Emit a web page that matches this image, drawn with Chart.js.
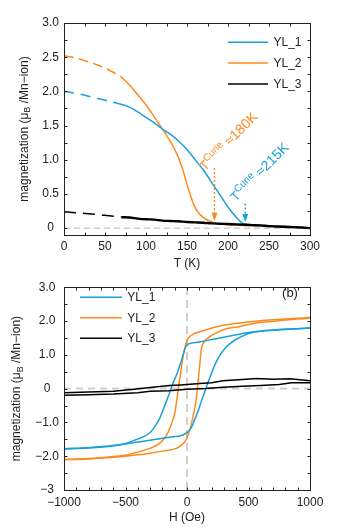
<!DOCTYPE html>
<html><head><meta charset="utf-8">
<script src="https://cdn.jsdelivr.net/npm/chart.js@4.4.1/dist/chart.umd.min.js"></script>
<style>
html,body{margin:0;padding:0;background:#fff;width:346px;height:530px;overflow:hidden}
canvas{position:absolute;left:0}
#c1{top:0;width:346px;height:275px}
#c2{top:275px;width:346px;height:255px}
</style></head><body>
<canvas id="c1" width="346" height="275"></canvas>
<canvas id="c2" width="346" height="255"></canvas>
<script>
// ---------- (a) magnetization vs temperature ----------
const T_YL1_extrap = [0,10,20,30,40,50,60];
const M_YL1_extrap = [2.00,1.98,1.96,1.93,1.90,1.87,1.84];
const T_YL1 = [60,70,80,90,100,110,120,130,140,150,160,170,180,190,200,210,214,218,230,250,270,290];
const M_YL1 = [1.84,1.81,1.77,1.70,1.62,1.54,1.45,1.37,1.27,1.15,1.00,0.85,0.67,0.49,0.31,0.16,0.11,0.07,0.05,0.03,0.02,0.01];

const T_YL2_extrap = [0,10,20,30,40,50,60,69];
const M_YL2_extrap = [2.52,2.50,2.47,2.43,2.39,2.34,2.28,2.22];
const T_YL2 = [69,80,90,100,110,120,125,130,135,140,145,150,155,160,165,170,175,180,183,190,200,220,240,260,280];
const M_YL2 = [2.22,2.09,1.95,1.80,1.63,1.45,1.36,1.26,1.15,1.02,0.85,0.64,0.45,0.30,0.21,0.155,0.12,0.095,0.08,0.06,0.05,0.04,0.03,0.02,0.01];

const T_YL3_extrap = [0,10,20,30,40,50,60,70];
const M_YL3_extrap = [0.24,0.23,0.22,0.21,0.20,0.19,0.175,0.165];
const T_YL3 = [70,80,90,100,110,120,130,140,150,160,170,180,190,200,210,220,230,240,250,260,270,280,290,300];
const M_YL3 = [0.16,0.155,0.14,0.13,0.125,0.11,0.105,0.10,0.09,0.085,0.08,0.07,0.065,0.06,0.055,0.05,0.045,0.04,0.03,0.025,0.02,0.015,0.01,0.0];

const T_range = [0,300];
const T_ticks = [0,50,100,150,200,250,300];
const Ma_ticks = [0,0.5,1.0,1.5,2.0,2.5,3.0];

// Curie temperature markers: [T, arrow top M, arrow tip M, text T, text M, label]
const curie_YL2 = [183.5, 0.88, 0.11, 171.5, 0.83, '≈180K'];
const curie_YL1 = [221, 0.36, 0.09, 209.5, 0.38, '≈215K'];

// ---------- (b) hysteresis loops ----------
const H_YL1_up = [-1000,-800,-600,-500,-420,-358,-300,-276,-250,-222,-195,-168,-141,-114,-95,-81,-64,-46,-30,-19,-5,10,100,200,300,400,500,600,800,1000];
const M_YL1_up = [-1.78,-1.74,-1.68,-1.62,-1.52,-1.43,-1.30,-1.20,-1.06,-0.88,-0.64,-0.38,-0.12,0.16,0.32,0.44,0.62,0.82,1.02,1.16,1.28,1.32,1.38,1.45,1.52,1.59,1.66,1.70,1.75,1.79];
const H_YL1_dn = [-1000,-800,-600,-500,-400,-300,-200,-100,-59,0,22,45,63,76,90,103,124,144,165,185,210,239,270,307,350,401,450,500,600,800,1000];
const M_YL1_dn = [-1.79,-1.76,-1.70,-1.64,-1.58,-1.53,-1.47,-1.42,-1.40,-1.30,-1.22,-1.08,-0.91,-0.80,-0.66,-0.53,-0.30,-0.10,0.12,0.32,0.56,0.80,1.00,1.18,1.33,1.46,1.55,1.63,1.70,1.76,1.79];

const H_YL2_up = [-1000,-800,-600,-500,-400,-303,-222,-168,-127,-100,-81,-65,-46,-30,-19,0,22,49,100,157,250,428,600,800,1000];
const M_YL2_up = [-2.10,-2.07,-2.01,-1.97,-1.88,-1.77,-1.62,-1.39,-1.05,-0.74,-0.29,0.13,0.61,0.98,1.18,1.42,1.54,1.61,1.68,1.74,1.84,1.94,2.01,2.06,2.10];
const H_YL2_dn = [-1000,-800,-600,-500,-400,-300,-200,-86,-19,8,35,63,76,90,105,117,135,157,200,239,300,428,600,700,800,1000];
const M_YL2_dn = [-2.10,-2.08,-2.03,-2.00,-1.96,-1.91,-1.85,-1.77,-1.58,-1.38,-1.05,-0.58,-0.29,0.20,0.75,1.18,1.36,1.46,1.57,1.65,1.75,1.84,1.96,1.99,2.03,2.08];

const H_YL3_up = [-1000,-800,-600,-450,-300,-141,-50,103,200,293,450,564,700,835,1000];
const M_YL3_up = [-0.12,-0.10,-0.08,-0.03,0.03,0.09,0.11,0.15,0.17,0.23,0.27,0.30,0.28,0.29,0.23];
const H_YL3_dn = [-1000,-800,-600,-400,-300,-150,0,150,293,450,600,750,850,1000];
const M_YL3_dn = [-0.20,-0.18,-0.16,-0.12,-0.08,-0.06,-0.02,0.00,0.04,0.07,0.09,0.12,0.17,0.17];

const H_range = [-1000,1000];
const H_ticks = [-1000,-500,0,500,1000];
const Mb_range = [-3,3];
const Mb_ticks = [-3,-2,-1,0,1,2,3];

const seriesNames = ['YL_1','YL_2','YL_3'];
const seriesColors = ['#1a9fd8','#ff8a1c','#000000'];
const refColor = '#cfcfcf';

// ---------- helpers ----------
const FONT = '"Liberation Sans", Arial, Helvetica, sans-serif';
Chart.defaults.font.family = FONT;
Chart.defaults.font.size = 12;
Chart.defaults.color = '#222';

const pts = (xs, ys) => xs.map((x,i)=>({x, y: ys[i]}));
const near = (v, list) => list.find(t => Math.abs(t - v) < 1e-6);
const minus = s => s.replace('-', '\u2212');

function line(data, color, opts) {
  return Object.assign({
    data, borderColor: color, backgroundColor: color, borderWidth: 1.5,
    showLine: true, pointRadius: 0, pointHoverRadius: 0, fill: false,
    cubicInterpolationMode: 'monotone'
  }, opts || {});
}

const frameTicks = {
  id: 'frameTicks',
  afterDatasetsDraw(chart) {
    const {ctx, chartArea: a, scales: {x, y}} = chart;
    ctx.save();
    ctx.strokeStyle = '#222';
    ctx.lineWidth = 1;
    const L = Math.round(a.left) + 0.5, R = Math.round(a.right) + 0.5;
    const T = Math.round(a.top) + 0.5, B = Math.round(a.bottom) + 0.5;
    ctx.strokeRect(L, T, R - L, B - T);
    const len = 3;
    ctx.beginPath();
    x.ticks.forEach(t => {
      const p = Math.round(x.getPixelForValue(t.value)) + 0.5;
      ctx.moveTo(p, B); ctx.lineTo(p, B - len);
      ctx.moveTo(p, T); ctx.lineTo(p, T + len);
    });
    y.ticks.forEach(t => {
      const p = Math.round(y.getPixelForValue(t.value)) + 0.5;
      ctx.moveTo(L, p); ctx.lineTo(L + len, p);
      ctx.moveTo(R, p); ctx.lineTo(R - len, p);
    });
    ctx.stroke();
    ctx.restore();
  }
};

const yTitle = {
  id: 'yTitle',
  afterDraw(chart, args, o) {
    const {ctx, chartArea: a} = chart;
    const cy = (a.top + a.bottom) / 2;
    const parts = [['magnetization (\u03bc', 12, 0], ['B', 9, 3.5], [' /Mn\u2212ion)', 12, 0]];
    ctx.save();
    let w = 0;
    parts.forEach(p => { ctx.font = p[1] + 'px ' + FONT; w += ctx.measureText(p[0]).width; });
    ctx.translate(o.x, cy);
    ctx.rotate(-Math.PI / 2);
    ctx.fillStyle = '#222';
    ctx.textBaseline = 'middle';
    let cx = -w / 2;
    parts.forEach(p => {
      ctx.font = p[1] + 'px ' + FONT;
      ctx.fillText(p[0], cx, p[2]);
      cx += ctx.measureText(p[0]).width;
    });
    ctx.restore();
  }
};

const customLegend = {
  id: 'customLegend',
  afterDraw(chart, args, o) {
    const {ctx} = chart;
    ctx.save();
    ctx.font = '12px ' + FONT;
    ctx.textBaseline = 'middle';
    chart.data.datasets.filter(d => d.inLegend)
      .sort((a, b) => seriesNames.indexOf(a.label) - seriesNames.indexOf(b.label))
      .forEach((d, i) => {
        const yy = o.y0 + i * o.dy;
        ctx.strokeStyle = d.borderColor;
        ctx.lineWidth = 1.5;
        ctx.beginPath(); ctx.moveTo(o.x1, yy); ctx.lineTo(o.x2, yy); ctx.stroke();
        ctx.fillStyle = '#222';
        ctx.fillText(d.label, o.tx, yy + 0.5);
      });
    if (o.tag) {
      ctx.font = '13px ' + FONT;
      ctx.textAlign = 'center';
      ctx.fillText(o.tag[0], o.tag[1], o.tag[2]);
    }
    ctx.restore();
  }
};

const curieMarks = {
  id: 'curieMarks',
  afterDatasetsDraw(chart, args, o) {
    const {ctx, scales: {x, y}} = chart;
    o.marks.forEach(([m, color]) => {
      const [T, m1, m2, tt, tm, lab] = m;
      const px = x.getPixelForValue(T), y1 = y.getPixelForValue(m1), y2 = y.getPixelForValue(m2);
      ctx.save();
      ctx.strokeStyle = color; ctx.fillStyle = color; ctx.lineWidth = 1.4;
      ctx.setLineDash([2, 2]);
      ctx.beginPath(); ctx.moveTo(px, y1); ctx.lineTo(px, y2 - 6); ctx.stroke();
      ctx.setLineDash([]);
      ctx.beginPath(); ctx.moveTo(px - 3, y2 - 8); ctx.lineTo(px + 3, y2 - 8); ctx.lineTo(px, y2); ctx.closePath(); ctx.fill();
      // rotated label
      ctx.translate(x.getPixelForValue(tt), y.getPixelForValue(tm));
      ctx.rotate(-45 * Math.PI / 180);
      ctx.textBaseline = 'alphabetic';
      ctx.font = '13px ' + FONT;
      ctx.fillText('T', 0, 0);
      let cx = ctx.measureText('T').width;
      ctx.font = '10px ' + FONT;
      ctx.fillText('Curie', cx, -5);
      cx += ctx.measureText('Curie').width;
      ctx.font = '14px ' + FONT;
      ctx.fillText(' ' + lab, cx, 0);
      ctx.restore();
    });
  }
};

// ---------- chart (a) ----------
new Chart(document.getElementById('c1'), {
  type: 'scatter',
  data: {
    datasets: [
      line(pts(T_YL3, M_YL3), seriesColors[2], {label: seriesNames[2], inLegend: true, borderWidth: 2.4, order: 0}),
      line(pts(T_YL3_extrap, M_YL3_extrap), seriesColors[2], {borderDash: [12, 7], order: 1}),
      line(pts(T_YL1, M_YL1), seriesColors[0], {label: seriesNames[0], inLegend: true, order: 2}),
      line(pts(T_YL1_extrap, M_YL1_extrap), seriesColors[0], {borderDash: [10, 7], order: 3}),
      line(pts(T_YL2, M_YL2), seriesColors[1], {label: seriesNames[1], inLegend: true, order: 4}),
      line(pts(T_YL2_extrap, M_YL2_extrap), seriesColors[1], {borderDash: [10, 5], order: 5}),
      line(pts(T_range, [0, 0]), refColor, {borderDash: [6, 4], borderWidth: 1.5, cubicInterpolationMode: 'default', order: 9})
    ]
  },
  options: {
    responsive: false, animation: false, devicePixelRatio: 1,
    layout: {padding: {top: 23, right: 36, left: 0, bottom: 0}},
    plugins: {
      legend: {display: false}, tooltip: {enabled: false},
      yTitle: {x: 24.5},
      customLegend: {x1: 228, x2: 268, tx: 273.5, y0: 42.3, dy: 20.8},
      curieMarks: {marks: [[curie_YL2, seriesColors[1]], [curie_YL1, seriesColors[0]]]}
    },
    scales: {
      x: {
        type: 'linear', min: T_range[0], max: T_range[1],
        afterFit(s) { s.height = 40; },
        grid: {display: false, drawTicks: false}, border: {display: false},
        ticks: {stepSize: 25, autoSkip: false, maxRotation: 0, includeBounds: false, padding: 4.8,
          callback: v => near(v, T_ticks) !== undefined ? String(Math.round(v)) : ''},
        title: {display: true, text: 'T (K)', font: {size: 12}, padding: {top: 0, bottom: 3.8}}
      },
      y: {
        type: 'linear', min: -0.1, max: 3.0,
        afterFit(s) { s.width = 64; },
        grid: {display: false, drawTicks: false}, border: {display: false},
        ticks: {stepSize: 0.25, autoSkip: false, includeBounds: false, padding: 5, crossAlign: 'center',
          callback: v => { const t = near(v, Ma_ticks); return t === undefined ? '' : (t === 0 ? '0' : t.toFixed(1)); }}
      }
    }
  },
  plugins: [frameTicks, yTitle, customLegend, curieMarks]
});

// ---------- chart (b) ----------
new Chart(document.getElementById('c2'), {
  type: 'scatter',
  data: {
    datasets: [
      line(pts(H_YL3_up, M_YL3_up), seriesColors[2], {order: 0, cubicInterpolationMode: 'default'}),
      line(pts(H_YL3_dn, M_YL3_dn), seriesColors[2], {order: 1, cubicInterpolationMode: 'default'}),
      line(pts(H_YL1_up, M_YL1_up), seriesColors[0], {order: 2}),
      line(pts(H_YL1_dn, M_YL1_dn), seriesColors[0], {order: 3}),
      line(pts(H_YL2_up, M_YL2_up), seriesColors[1], {order: 4}),
      line(pts(H_YL2_dn, M_YL2_dn), seriesColors[1], {order: 5}),
      line(pts(H_range, [0, 0]), refColor, {borderDash: [7, 5], borderWidth: 2, cubicInterpolationMode: 'default', order: 9}),
      line(pts([0, 0], Mb_range), refColor, {borderDash: [8, 5], borderWidth: 2, cubicInterpolationMode: 'default', order: 10}),
      // legend entries
      {label: seriesNames[0], borderColor: seriesColors[0], inLegend: true, data: []},
      {label: seriesNames[1], borderColor: seriesColors[1], inLegend: true, data: []},
      {label: seriesNames[2], borderColor: seriesColors[2], inLegend: true, data: []}
    ]
  },
  options: {
    responsive: false, animation: false, devicePixelRatio: 1,
    layout: {padding: {top: 4.5, right: 36, left: 0, bottom: 0}},
    plugins: {
      legend: {display: false}, tooltip: {enabled: false},
      yTitle: {x: 17},
      customLegend: {x1: 80, x2: 122, tx: 127.3, y0: 22.3, dy: 20.5, tag: ['(b)', 290, 18.5]}
    },
    scales: {
      x: {
        type: 'linear', min: H_range[0], max: H_range[1],
        afterFit(s) { s.height = 40; },
        grid: {display: false, drawTicks: false}, border: {display: false},
        ticks: {stepSize: 100, autoSkip: false, maxRotation: 0, includeBounds: false, padding: 5.8,
          callback: v => { const t = near(v, H_ticks); return t === undefined ? '' : minus(String(t)); }},
        title: {display: true, text: 'H (Oe)', font: {size: 12}, padding: {top: 0, bottom: 4.8}}
      },
      y: {
        type: 'linear', min: Mb_range[0], max: Mb_range[1],
        afterFit(s) { s.width = 64; },
        grid: {display: false, drawTicks: false}, border: {display: false},
        ticks: {stepSize: 0.5, autoSkip: false, includeBounds: false, padding: 5, crossAlign: 'center',
          callback: v => { const t = near(v, Mb_ticks); if (t === undefined) return ''; if (t === 0) return '0'; if (t === -3) return '\u22123'; return minus(t.toFixed(1)); }}
      }
    }
  },
  plugins: [frameTicks, yTitle, customLegend]
});
</script>
</body></html>
